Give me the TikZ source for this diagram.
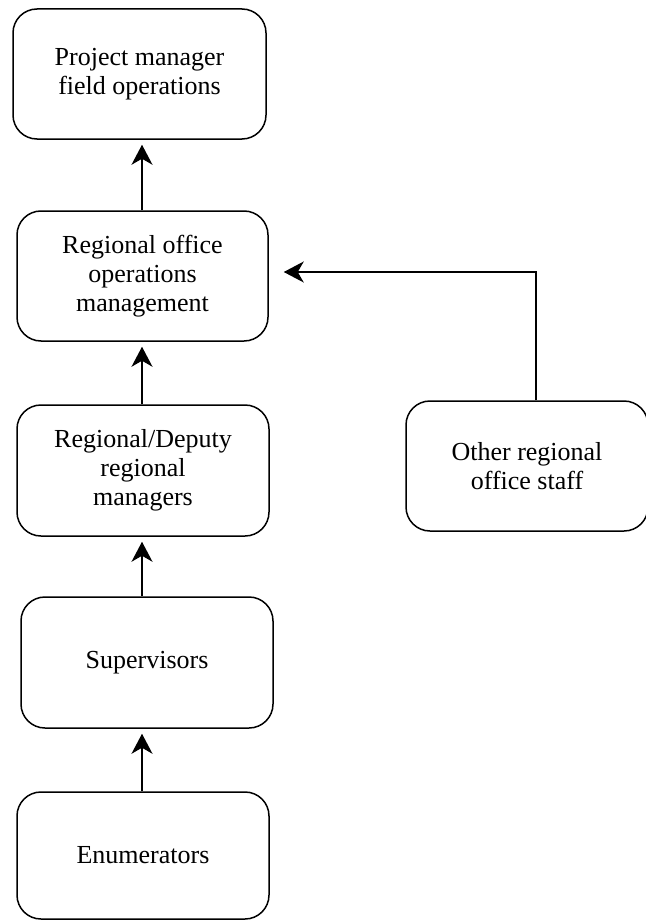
\documentclass[tikz,border=0pt]{standalone}
\usepackage{fontspec}
\setmainfont{Liberation Serif}
\usepackage{tikz}
\usetikzlibrary{arrows.meta}

\tikzset{
	box/.style={draw,line width=0.75pt,rounded corners=12pt,inner sep=0pt,align=center,font=\fontsize{13}{14.5}\selectfont},
	arr/.style={line width=0.75pt,-{Stealth[length=10pt,width=10.5pt,inset=3pt]},shorten >=2.5pt}
}

\begin{document}
\begin{tikzpicture}[x=0.5pt,y=-0.5pt]
	\useasboundingbox (0,0) rectangle (646,920);
	\node[box,minimum width=126.5pt,minimum height=65pt] (pm) at (139.5,74) {Project manager\\field operations};
	\node[box,minimum width=125.5pt,minimum height=65pt] (rom) at (142.5,276) {Regional office\\operations\\management};
	\node[box,minimum width=126pt,minimum height=65.5pt,text depth=0.3em] (rdm) at (143,470.5) {Regional/Deputy\\regional\\managers};
	\node[box,minimum width=126pt,minimum height=65.5pt] (sup) at (147,662.5) {Supervisors};
	\node[box,minimum width=126pt,minimum height=63.5pt] (enu) at (143,855.5) {Enumerators};
	\node[box,minimum width=121pt,minimum height=65pt] (oth) at (527,466) {Other regional\\office staff};
	\coordinate (ax) at (142,0);
	\coordinate (ox) at (536,272);
	\draw[arr] (rom.north -| ax) -- (pm.south -| ax);
	\draw[arr] (rdm.north -| ax) -- (rom.south -| ax);
	\draw[arr] (sup.north -| ax) -- (rdm.south -| ax);
	\draw[arr] (enu.north -| ax) -- (sup.south -| ax);
	\draw[arr,shorten >=7.5pt] (oth.north -| ox) |- (rom.east |- ox);
\end{tikzpicture}
\end{document}
